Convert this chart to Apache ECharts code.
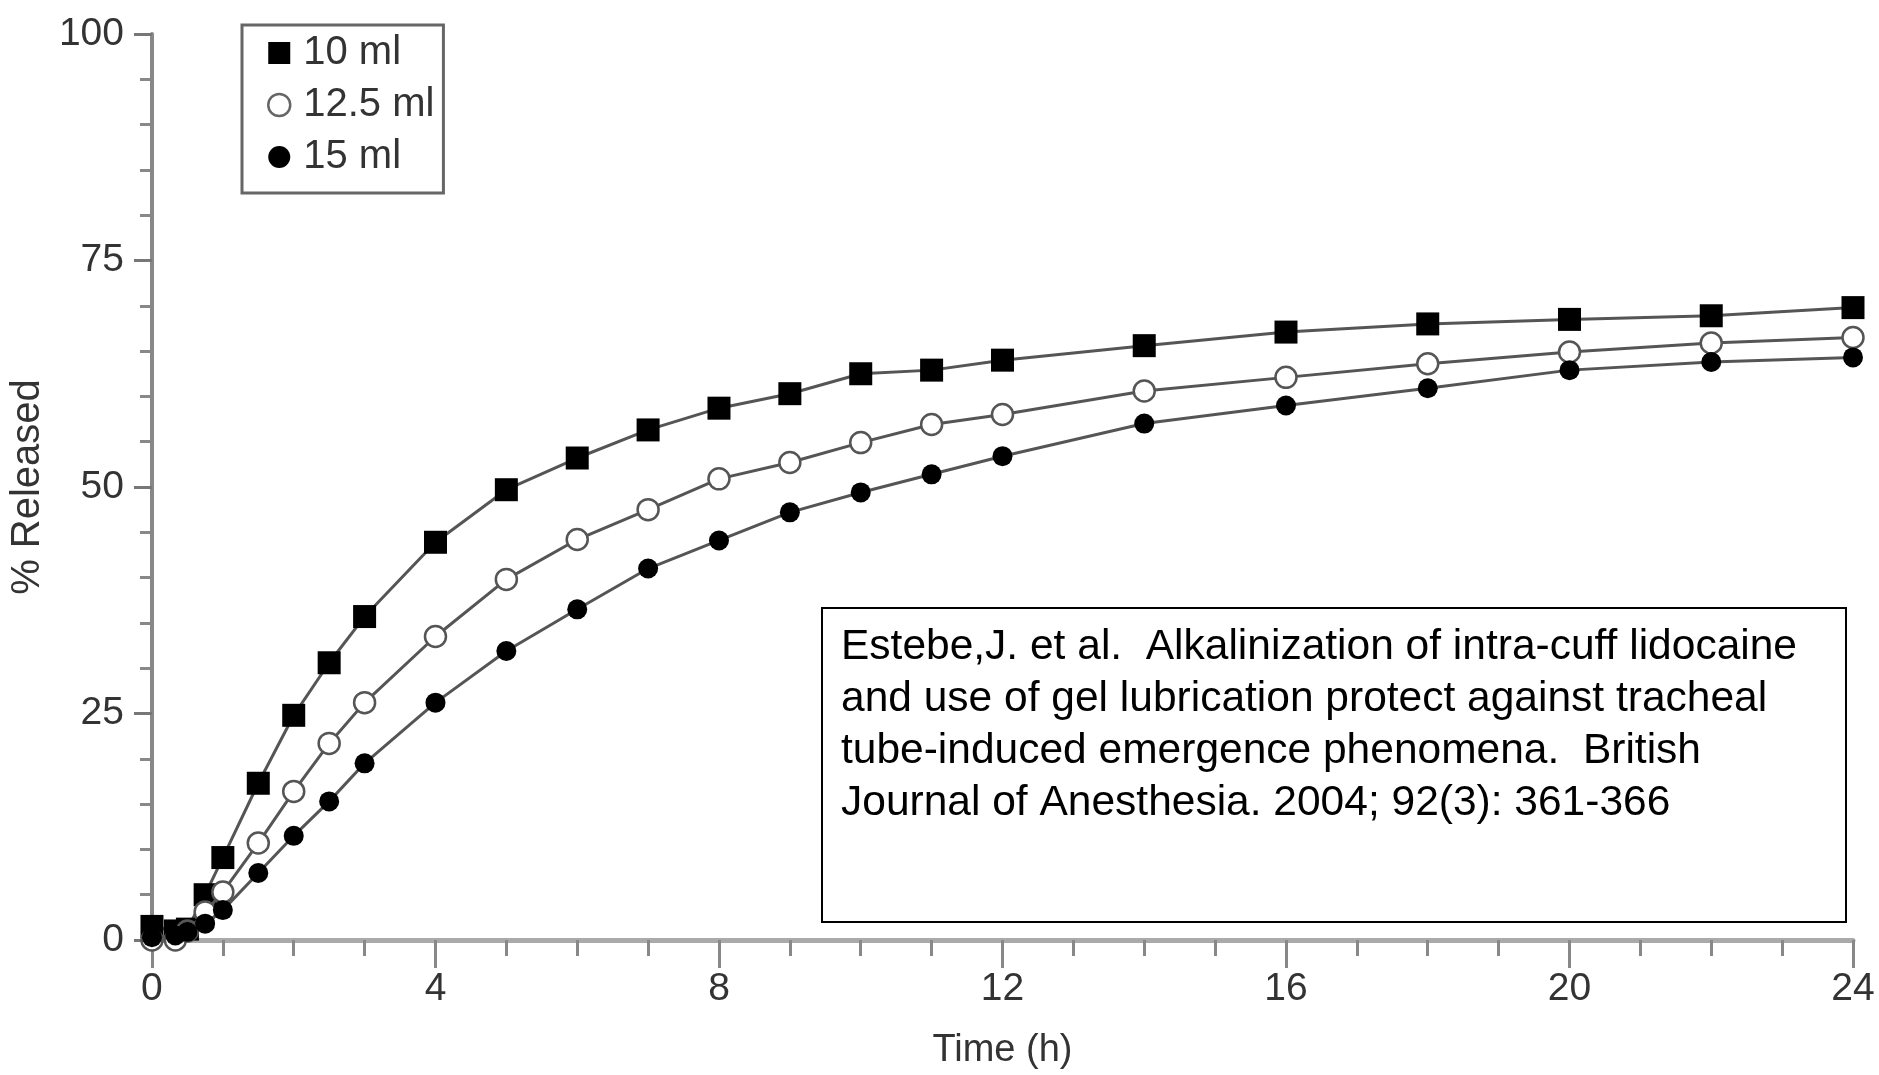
<!DOCTYPE html>
<html>
<head>
<meta charset="utf-8">
<title>% Released vs Time</title>
<script src="https://cdn.jsdelivr.net/npm/echarts@6/dist/echarts.min.js"></script>
<style>
  html, body { margin: 0; padding: 0; background: #fff; }
  #chart { width: 1879px; height: 1075px; }
</style>
</head>
<body>
<div id="chart"></div>
<script>
  // sampling times (h), shared by the three series
  var times = [0, 0.33, 0.5, 0.75, 1, 1.5, 2, 2.5, 3, 4, 5, 6, 7, 8, 9, 10, 11, 12, 14, 16, 18, 20, 22, 24];
  // % released
  var vol10 = [1.5, 1.0, 1.2, 5.0, 9.1, 17.3, 24.8, 30.6, 35.7, 43.9, 49.7, 53.2, 56.3, 58.7, 60.3, 62.5, 62.9, 64.0, 65.6, 67.1, 68.0, 68.5, 68.9, 69.8];
  var vol125 = [0, 0, 1.0, 3.1, 5.3, 10.7, 16.4, 21.7, 26.2, 33.5, 39.8, 44.2, 47.5, 50.9, 52.7, 54.9, 56.9, 58.0, 60.6, 62.1, 63.6, 64.9, 65.9, 66.5];
  var vol15 = [0.3, 0.5, 0.9, 1.8, 3.3, 7.4, 11.5, 15.3, 19.5, 26.2, 31.9, 36.5, 41.0, 44.1, 47.2, 49.4, 51.4, 53.4, 57.0, 59.0, 60.9, 62.9, 63.8, 64.3];
  var seriesNames = ['10 ml', '12.5 ml', '15 ml'];
  var citation = [
    'Estebe,J. et al.  Alkalinization of intra-cuff lidocaine',
    'and use of gel lubrication protect against tracheal',
    'tube-induced emergence phenomena.  British',
    'Journal of Anesthesia. 2004; 92(3): 361-366'
  ];

  function pairs(ys) {
    return times.map(function (t, i) { return [t, ys[i]]; });
  }

  var font = '"Liberation Sans", Arial, sans-serif';
  var chart = echarts.init(document.getElementById('chart'));

  var option = {
    backgroundColor: '#fff',
    animation: false,
    textStyle: { fontFamily: font },
    grid: { left: 151, right: 26, top: 34, bottom: 125 },
    legend: {
      orient: 'vertical',
      left: 242,
      top: 25,
      padding: [8, 9, 16, 25],
      itemGap: 12,
      itemWidth: 22,
      itemHeight: 22,
      borderColor: '#666',
      borderWidth: 3,
      selectedMode: false,
      textStyle: { fontSize: 40, color: '#333', lineHeight: 40, padding: [0, 0, 0, 8], fontFamily: font },
      data: [
        { name: '10 ml', icon: 'rect', itemStyle: { color: '#000' } },
        { name: '12.5 ml', icon: 'circle', itemStyle: { color: '#fff', borderColor: '#666', borderWidth: 2.5 } },
        { name: '15 ml', icon: 'circle', itemStyle: { color: '#000' } }
      ]
    },
    xAxis: {
      type: 'value',
      min: 0,
      max: 24,
      interval: 4,
      name: 'Time (h)',
      nameLocation: 'middle',
      nameGap: 92,
      nameTextStyle: { fontSize: 38, color: '#333', fontFamily: font },
      axisLine: { lineStyle: { color: '#aaa', width: 5 } },
      axisTick: { length: 28, lineStyle: { color: '#888', width: 3 } },
      minorTick: { show: true, splitNumber: 4, length: 16, lineStyle: { color: '#888', width: 3 } },
      axisLabel: { fontSize: 39, color: '#333', margin: 30, fontFamily: font },
      splitLine: { show: false }
    },
    yAxis: {
      type: 'value',
      min: 0,
      max: 100,
      interval: 25,
      name: '% Released',
      nameLocation: 'middle',
      nameRotate: 90,
      nameGap: 97,
      nameTextStyle: { fontSize: 40, color: '#333', fontFamily: font },
      axisLine: { show: true, lineStyle: { color: '#888', width: 4 } },
      axisTick: { show: true, length: 18, lineStyle: { color: '#777', width: 3 } },
      minorTick: { show: true, splitNumber: 5, length: 12, lineStyle: { color: '#888', width: 3 } },
      axisLabel: { fontSize: 39, color: '#333', margin: 28, fontFamily: font },
      splitLine: { show: false }
    },
    series: [
      {
        name: seriesNames[0],
        type: 'line',
        data: pairs(vol10),
        symbol: 'rect',
        symbolSize: 23,
        lineStyle: { color: '#555', width: 3 },
        itemStyle: { color: '#000' },
        z: 2
      },
      {
        name: seriesNames[1],
        type: 'line',
        data: pairs(vol125),
        symbol: 'circle',
        symbolSize: 21,
        lineStyle: { color: '#555', width: 3 },
        itemStyle: { color: '#fff', borderColor: '#555', borderWidth: 2.5 },
        z: 3
      },
      {
        name: seriesNames[2],
        type: 'line',
        data: pairs(vol15),
        symbol: 'circle',
        symbolSize: 20,
        lineStyle: { color: '#555', width: 3 },
        itemStyle: { color: '#000' },
        z: 4
      }
    ],
    graphic: [
      {
        type: 'rect',
        left: 821,
        top: 607,
        shape: { width: 1024, height: 314 },
        style: { fill: '#fff', stroke: '#000', lineWidth: 2 }
      },
      {
        type: 'text',
        left: 841,
        top: 621,
        style: {
          text: citation.join('\n'),
          font: '42.5px ' + font,
          lineHeight: 52,
          fill: '#000'
        }
      }
    ]
  };

  chart.setOption(option);
</script>
</body>
</html>
